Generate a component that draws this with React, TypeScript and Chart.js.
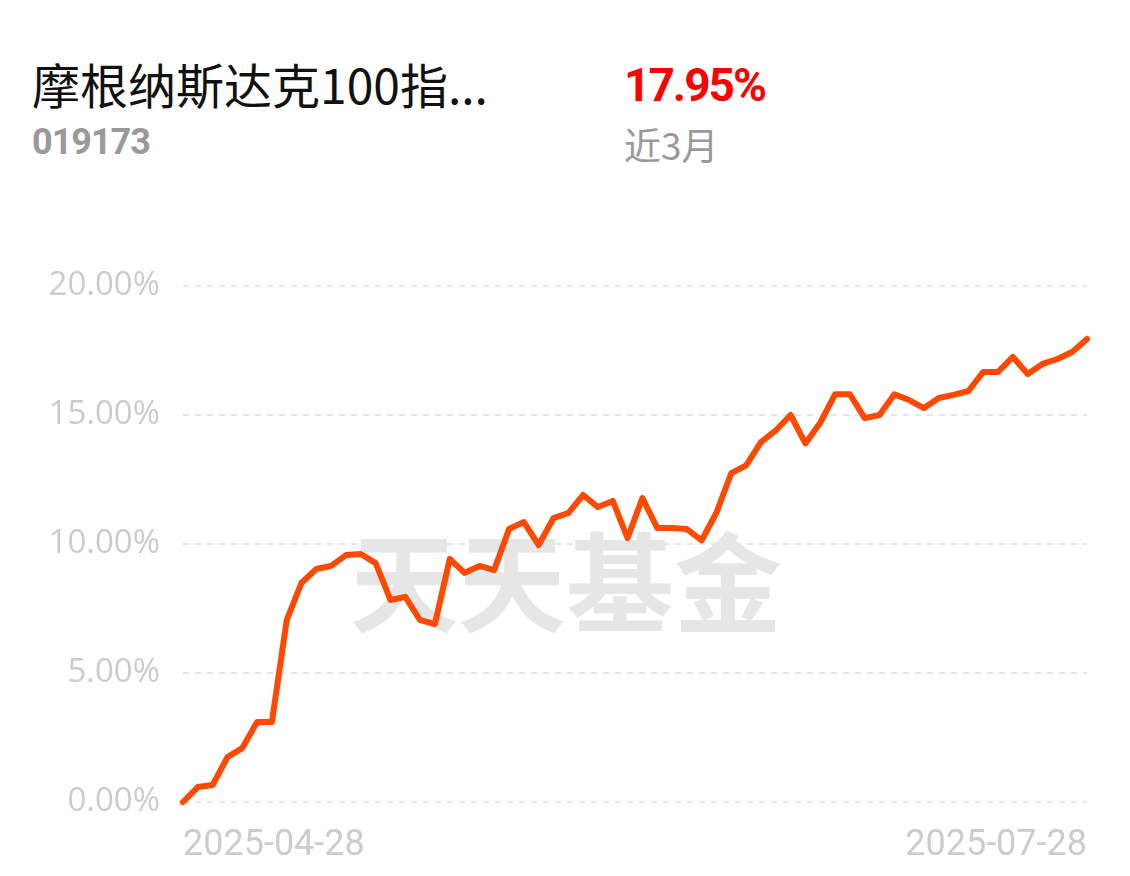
import React, { useEffect, useRef } from "react";
import { Chart, registerables } from "chart.js";

Chart.register(...registerables);

const dates: string[] = [
  "2025-04-28", "2025-04-29", "2025-04-30",
  "2025-05-06", "2025-05-07", "2025-05-08", "2025-05-09",
  "2025-05-12", "2025-05-13", "2025-05-14", "2025-05-15", "2025-05-16",
  "2025-05-19", "2025-05-20", "2025-05-21", "2025-05-22", "2025-05-23",
  "2025-05-26", "2025-05-27", "2025-05-28", "2025-05-29", "2025-05-30",
  "2025-06-03", "2025-06-04", "2025-06-05", "2025-06-06",
  "2025-06-09", "2025-06-10", "2025-06-11", "2025-06-12", "2025-06-13",
  "2025-06-16", "2025-06-17", "2025-06-18", "2025-06-19", "2025-06-20",
  "2025-06-23", "2025-06-24", "2025-06-25", "2025-06-26", "2025-06-27",
  "2025-06-30", "2025-07-01", "2025-07-02", "2025-07-03", "2025-07-04",
  "2025-07-07", "2025-07-08", "2025-07-09", "2025-07-10", "2025-07-11",
  "2025-07-14", "2025-07-15", "2025-07-16", "2025-07-17", "2025-07-18",
  "2025-07-21", "2025-07-22", "2025-07-23", "2025-07-24", "2025-07-25",
  "2025-07-28",
];

const returns: number[] = [
  0.0, 0.58, 0.66, 1.74, 2.09, 3.1, 3.1, 7.05, 8.5, 9.03,
  9.15, 9.57, 9.61, 9.26, 7.83, 7.95, 7.05, 6.9, 9.42, 8.88,
  9.15, 8.99, 10.58, 10.85, 9.96, 11.0, 11.2, 11.9, 11.43, 11.67,
  10.23, 11.78, 10.62, 10.62, 10.58, 10.14, 11.22, 12.75, 13.05, 13.95,
  14.4, 15.0, 13.9, 14.7, 15.8, 15.8, 14.88, 15.0, 15.8, 15.58,
  15.27, 15.66, 15.78, 15.93, 16.67, 16.67, 17.25, 16.59, 16.98, 17.17,
  17.44, 17.95,
];

const yTicks: number[] = [0, 5, 10, 15, 20];

const fundName = "摩根纳斯达克100指...";
const fundCode = "019173";
const periodReturn = "17.95%";
const periodLabel = "近3月";
const watermark = "天天基金";

export default function App() {
  const canvasRef = useRef<HTMLCanvasElement | null>(null);

  useEffect(() => {
    document.body.style.margin = "0";
    const canvas = canvasRef.current;
    if (!canvas) return;

    const watermarkPlugin = {
      id: "watermark",
      beforeDatasetsDraw(chart: any) {
        const { ctx } = chart;
        ctx.save();
        ctx.fillStyle = "#e6e6e6";
        ctx.font = "bold 108px 'Noto Sans CJK SC'";
        ctx.textAlign = "center";
        ctx.textBaseline = "middle";
        ctx.fillText(watermark, 566, 343);
        ctx.restore();
      },
    };

    const chart = new Chart(canvas, {
      type: "line",
      data: {
        labels: dates,
        datasets: [
          {
            data: returns,
            borderColor: "#ff4800",
            borderWidth: 6,
            pointRadius: 0,
            tension: 0,
            fill: false,
            clip: false as any,
            borderJoinStyle: "round",
            borderCapStyle: "round",
          },
        ],
      },
      options: {
        animation: false,
        responsive: false,
        maintainAspectRatio: false,
        layout: { padding: { left: 0, right: 43, top: 46, bottom: 0 } },
        plugins: {
          legend: { display: false },
          tooltip: { enabled: false },
        },
        scales: {
          x: {
            type: "category",
            offset: false,
            grid: { display: false, drawTicks: false },
            border: { display: false },
            afterFit(scale: any) {
              scale.height = 74;
            },
            ticks: {
              autoSkip: false,
              maxRotation: 0,
              minRotation: 0,
              align: "inner",
              padding: 22,
              color: "#cccccc",
              font: { family: "Roboto", size: 36 },
              callback(_v: any, i: number) {
                if (i === 0 || i === dates.length - 1) return dates[i];
                return "";
              },
            },
          },
          y: {
            min: yTicks[0],
            max: yTicks[yTicks.length - 1],
            afterBuildTicks(scale: any) {
              scale.ticks = yTicks.map((v) => ({ value: v }));
            },
            afterFit(scale: any) {
              scale.width = 183;
            },
            grid: {
              drawTicks: false,
              color: "#e6e6e6",
              lineWidth: 2,
            },
            border: { display: false, dash: [6, 6] },
            ticks: {
              padding: 23,
              color: "#cccccc",
              font: { family: "'Open Sans'", size: 33 },
              callback(v: any) {
                return Number(v).toFixed(2) + "%";
              },
            },
          },
        },
      },
      plugins: [watermarkPlugin],
    });

    return () => {
      chart.destroy();
    };
  }, []);

  return (
    <div style={{ position: "relative", width: 1130, height: 876, background: "#fff", overflow: "hidden" }}>
      <div
        style={{
          position: "absolute",
          left: 32,
          top: 55,
          fontFamily: "'Noto Sans CJK SC'",
          fontSize: 48,
          lineHeight: "56px",
          color: "#111",
          whiteSpace: "nowrap",
        }}
      >
        {fundName}
      </div>
      <div
        style={{
          position: "absolute",
          left: 32,
          top: 121,
          fontFamily: "Roboto",
          fontWeight: 700,
          fontSize: 36,
          lineHeight: "42px",
          letterSpacing: -1,
          color: "#999",
        }}
      >
        {fundCode}
      </div>
      <div
        style={{
          position: "absolute",
          left: 624,
          top: 59,
          fontFamily: "Roboto",
          fontWeight: 700,
          fontSize: 46,
          lineHeight: "52px",
          letterSpacing: -2,
          color: "#ff0000",
        }}
      >
        {periodReturn}
      </div>
      <div
        style={{
          position: "absolute",
          left: 624,
          top: 121,
          fontFamily: "'Noto Sans CJK SC'",
          fontSize: 37,
          lineHeight: "46px",
          color: "#999",
        }}
      >
        {periodLabel}
      </div>
      <canvas
        ref={canvasRef}
        width={1130}
        height={636}
        style={{ position: "absolute", left: 0, top: 240, width: 1130, height: 636 }}
      />
    </div>
  );
}
